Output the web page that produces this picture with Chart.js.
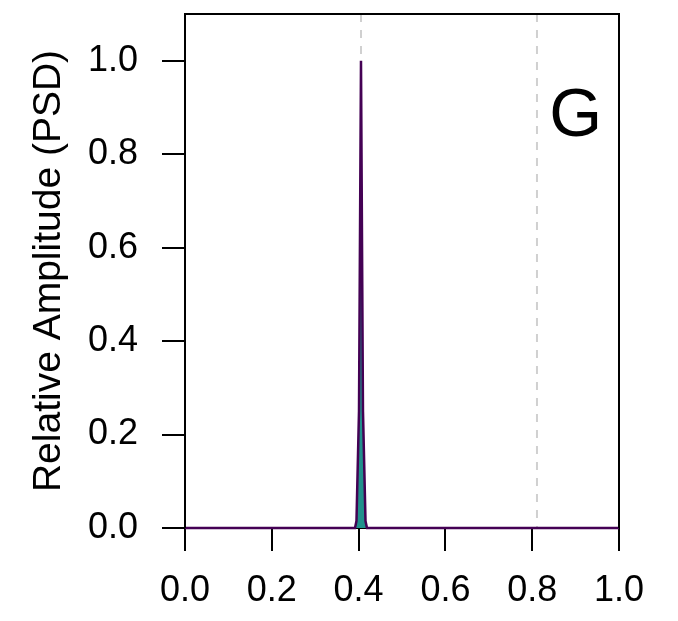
<!DOCTYPE html>
<html>
<head>
<meta charset="utf-8">
<script src="https://cdn.jsdelivr.net/npm/chart.js@4.4.1/dist/chart.umd.min.js"></script>
<style>
  body { margin: 0; background: #fff; }
  #wrap { width: 678px; height: 621px; }
</style>
</head>
<body>
<div id="wrap"><canvas id="psd" width="678" height="621"></canvas></div>
<script>
'use strict';

// spectrum (frequency, relative amplitude)
const freq = [0.0, 0.3917, 0.3951, 0.4009, 0.4055, 0.4101, 0.4159, 0.4193, 1.0];
const amp  = [0.0, 0.0,    0.015,  0.25,   1.0,    0.25,   0.015,  0.0,    0.0];

// dashed reference lines (fundamental + harmonic)
const harmonics = [0.4055, 0.811];

const xTicks = [0.0, 0.2, 0.4, 0.6, 0.8, 1.0];
const yTicks = [0.0, 0.2, 0.4, 0.6, 0.8, 1.0];
const yTitle = 'Relative Amplitude (PSD)';
const panelLabel = 'G';

Chart.defaults.font.family = "'Liberation Sans', Arial, Helvetica, sans-serif";
Chart.defaults.color = '#000';

const points = freq.map((f, i) => ({ x: f, y: amp[i] }));

// dashed verticals behind the data
const refLines = {
  id: 'refLines',
  beforeDatasetsDraw(chart) {
    const { ctx, chartArea, scales } = chart;
    ctx.save();
    ctx.strokeStyle = '#d0d0d0';
    ctx.lineWidth = 2;
    ctx.setLineDash([8, 8]);
    harmonics.forEach(h => {
      const px = scales.x.getPixelForValue(h);
      ctx.beginPath();
      ctx.moveTo(px, chartArea.top);
      ctx.lineTo(px, chartArea.bottom);
      ctx.stroke();
    });
    ctx.restore();
  }
};

// frame round the plot + panel letter
const frame = {
  id: 'frame',
  afterDraw(chart) {
    const { ctx, chartArea, scales } = chart;
    ctx.save();
    ctx.strokeStyle = '#000';
    ctx.lineWidth = 2;
    ctx.beginPath();
    ctx.moveTo(chartArea.left, chartArea.bottom);
    ctx.lineTo(chartArea.left, chartArea.top);
    ctx.lineTo(chartArea.right, chartArea.top);
    ctx.lineTo(chartArea.right, chartArea.bottom);
    ctx.stroke();
    ctx.fillStyle = '#000';
    ctx.font = "68px 'Liberation Sans', Arial, sans-serif";
    ctx.textAlign = 'center';
    ctx.textBaseline = 'middle';
    ctx.fillText(panelLabel, scales.x.getPixelForValue(0.90), scales.y.getPixelForValue(0.88));
    ctx.restore();
  }
};

new Chart(document.getElementById('psd'), {
  type: 'line',
  data: {
    datasets: [{
      data: points,
      borderColor: '#440154',
      backgroundColor: '#21908C',
      borderWidth: 2.5,
      pointRadius: 0,
      tension: 0,
      fill: 'origin',
      clip: false
    }]
  },
  options: {
    responsive: false,
    animation: false,
    layout: { padding: { top: 14, right: 59, left: 0, bottom: 0 } },
    plugins: { legend: { display: false }, tooltip: { enabled: false } },
    scales: {
      x: {
        type: 'linear',
        min: 0,
        max: 1,
        afterBuildTicks: s => { s.ticks = xTicks.map(v => ({ value: v })); },
        afterFit: s => { s.height = 93; s.paddingLeft = 0; s.paddingRight = 0; },
        ticks: {
          font: { size: 36 },
          padding: 18,
          maxRotation: 0,
          callback: v => v.toFixed(1)
        },
        grid: { drawOnChartArea: false, tickLength: 23, color: '#000', lineWidth: 2 },
        border: { display: true, color: '#000', width: 2 }
      },
      y: {
        type: 'linear',
        min: 0,
        max: 1.1,
        afterBuildTicks: s => { s.ticks = yTicks.map(v => ({ value: v })); },
        afterFit: s => { s.width = 185; s.paddingTop = 0; s.paddingBottom = 0; },
        ticks: {
          font: { size: 36 },
          padding: 24,
          callback: v => v.toFixed(1)
        },
        title: {
          display: true,
          text: yTitle,
          font: { size: 39 },
          padding: { top: 26, bottom: 0 }
        },
        grid: { drawOnChartArea: false, tickLength: 23, color: '#000', lineWidth: 2 },
        border: { display: true, color: '#000', width: 2 }
      }
    }
  },
  plugins: [refLines, frame]
});
</script>
</body>
</html>
